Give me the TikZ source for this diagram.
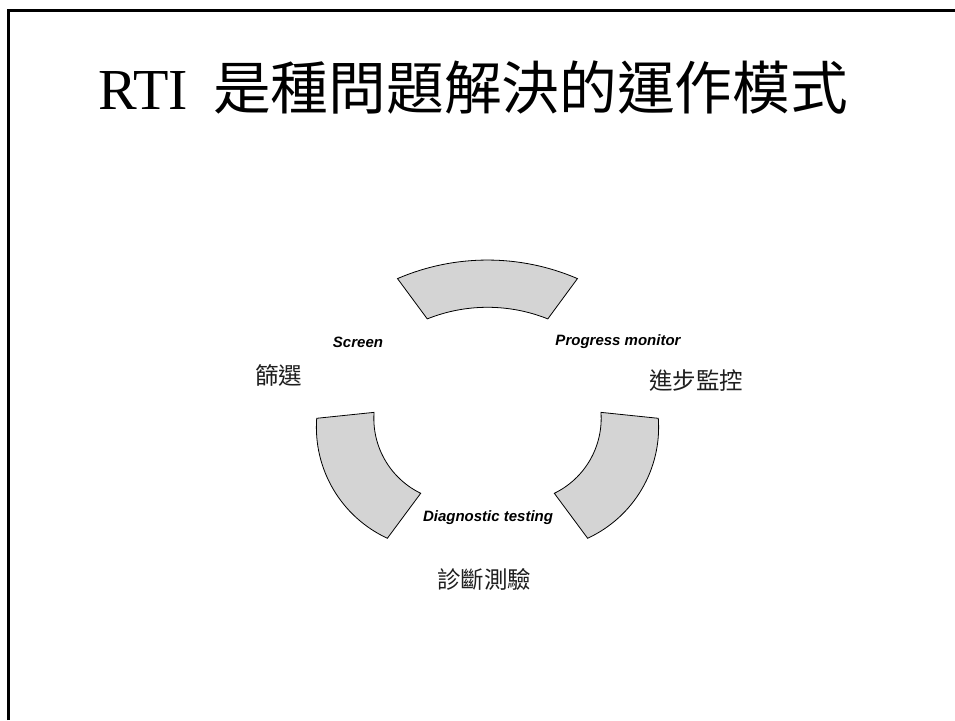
\documentclass[tikz,border=0pt]{standalone}
\usepackage{fontspec}
\setmainfont{Liberation Serif}
\newfontfamily\arialf{Liberation Sans}
\newfontfamily\cjk{Noto Sans CJK TC}
\begin{document}
\begin{tikzpicture}[x=1pt,y=1pt,
  seg/.style={fill={rgb,255:red,212;green,212;blue,212}, draw=black, line width=0.8pt, line join=miter},
  en/.style={inner sep=0pt, font=\arialf\bfseries\itshape\fontsize{15}{18}\selectfont},
  zh/.style={inner sep=0pt, text={rgb,255:red,30;green,30;blue,30}, font=\cjk\fontsize{23.5}{28}\selectfont},
  frame/.style={draw=black, line width=2.2pt}]
\useasboundingbox (0,0) rectangle (955,720);
\fill[white] (0,0) rectangle (955,720);
% frame (open to the right and the bottom)
\draw[frame] (8.5,0) -- (8.5,709.5) -- (955,709.5);
% title
\node[anchor=base west, inner sep=0pt, font=\fontsize{58}{64}\selectfont] (rti) at (98,610) {RTI};
\node[anchor=base west, inner sep=0pt, font=\cjk\fontsize{57.7}{64}\selectfont] (title) at (213,610) {是種問題解決的運作模式};
% top segment
\draw[seg] (397.5,441.4) arc[start angle=113.3, end angle=66.7, radius=227.5]
  -- (547.8,401.1) arc[start angle=68.2, end angle=111.8, radius=162.3] -- cycle;
% bottom-left segment
\draw[seg] (316.7,301.7) arc[start angle=175.8, end angle=245.2, radius=122.3]
  -- (420.7,226.7) arc[start angle=244.1, end angle=175.8, radius=83.2] -- cycle;
% bottom-right segment
\draw[seg] (658.3,301.7) arc[start angle=4.2, end angle=-65.2, radius=122.3]
  -- (554.3,226.7) arc[start angle=-64.1, end angle=4.2, radius=83.2] -- cycle;
% labels
\node[en] (screen) at (358,378) {Screen};
\node[en] (progress) at (618,378) {Progress monitor};
\node[en] (diag) at (488,202.5) {Diagnostic testing};
\node[zh] (shaixuan) at (278.6,344.6) {篩選};
\node[zh] (jinbu) at (696.4,339) {進步監控};
\node[zh] (zhenduan) at (484.4,141) {診斷測驗};
\end{tikzpicture}
\end{document}
